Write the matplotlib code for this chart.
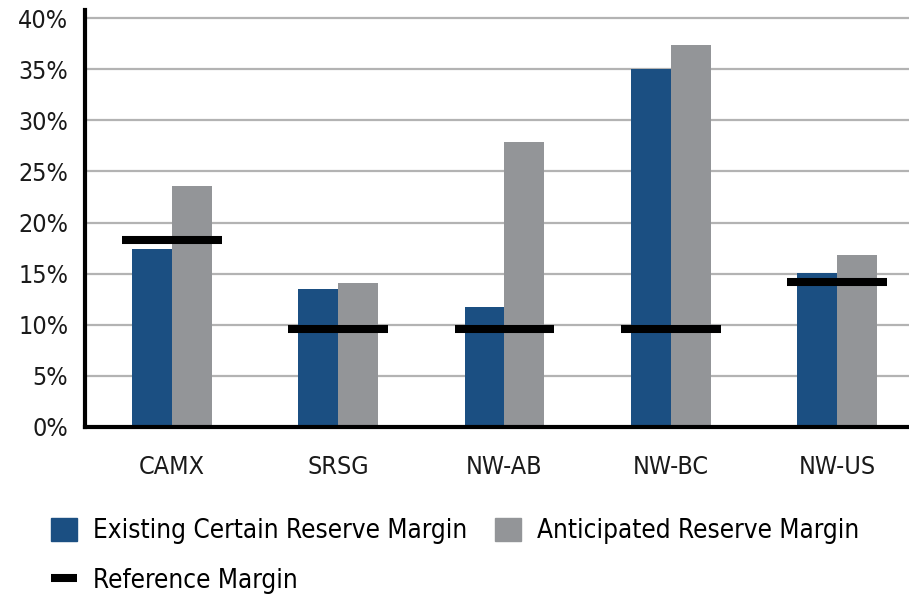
import matplotlib
matplotlib.use('Agg')
import matplotlib.pyplot as plt
from matplotlib.patches import Patch
from matplotlib.lines import Line2D
import numpy as np

plt.rcParams['font.family'] = ['DejaVu Sans']
plt.rcParams['font.stretch'] = 'condensed'

regions = ['CAMX', 'SRSG', 'NW-AB', 'NW-BC', 'NW-US']
existing = [17.4, 13.5, 11.7, 35.0, 15.1]
anticipated = [23.6, 14.1, 27.9, 37.4, 16.8]
reference = [18.3, 9.6, 9.6, 9.6, 14.2]

blue = '#1b4f82'
grey = '#939598'

fig = plt.figure(figsize=(9.09, 5.95), dpi=100)
ax = fig.add_axes([85 / 909, 1 - 427 / 595, 1 - 85 / 909, 417 / 595])

x = np.arange(len(regions))
w = 0.24
ax.bar(x - w / 2, existing, w, color=blue, zorder=2)
ax.bar(x + w / 2, anticipated, w, color=grey, zorder=2)
ax.hlines(reference, x - 0.30, x + 0.30, color='black', lw=5.8, zorder=3)

ax.set_xlim(-0.52, 4.43)
ax.set_ylim(0, 40.8)
ax.set_yticks(np.arange(0, 41, 5))
ax.set_yticklabels([f'{v}%' for v in range(0, 41, 5)])
ax.set_xticks(x)
ax.set_xticklabels(regions)
ax.tick_params(axis='both', length=0, labelsize=18, colors='#1a1a1a')
ax.tick_params(axis='y', pad=12)
ax.tick_params(axis='x', pad=20)

ax.grid(axis='y', color='#b3b3b3', lw=1.6, zorder=0)
ax.set_axisbelow(True)
for s in ['top', 'right']:
    ax.spines[s].set_visible(False)
for s in ['left', 'bottom']:
    ax.spines[s].set_linewidth(3)
    ax.spines[s].set_color('black')

# legend: two rows, order picked so ncol=2 gives the reference layout
handles = [Patch(color=blue),
           Line2D([0], [0], color='black', lw=5.8, solid_capstyle='butt'),
           Patch(color=grey)]
labels = ['Existing Certain Reserve Margin', 'Reference Margin', 'Anticipated Reserve Margin']
fig.legend(handles, labels, loc='upper left', bbox_to_anchor=(51 / 909, 1 - 518 / 595),
           ncol=2, frameon=False, fontsize=18.7, handlelength=1.0, handleheight=0.96,
           handletextpad=0.62, columnspacing=1.05, labelspacing=0.9, borderpad=0,
           borderaxespad=0)

fig.savefig('out.png', dpi=100)
